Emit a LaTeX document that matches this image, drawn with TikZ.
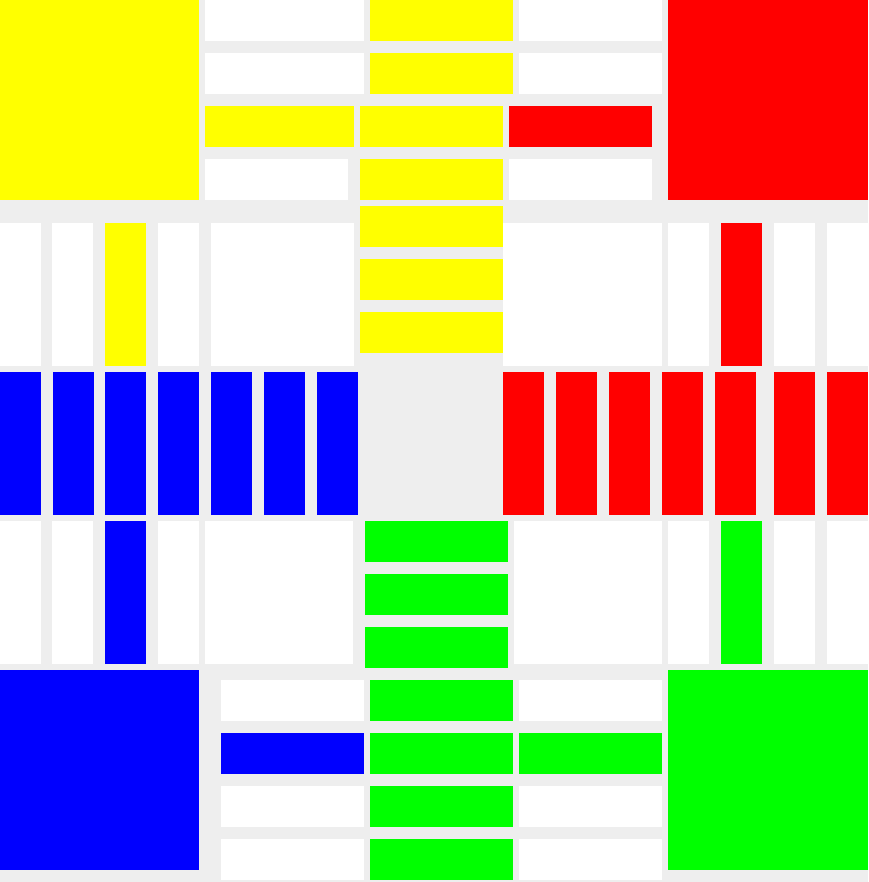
\documentclass[tikz,border=0pt]{standalone}
\definecolor{boardgray}{HTML}{EEEEEE}
\definecolor{pyellow}{HTML}{FFFF00}
\definecolor{pred}{HTML}{FF0000}
\definecolor{pblue}{HTML}{0000FF}
\definecolor{pgreen}{HTML}{00FF00}

\begin{document}
\begin{tikzpicture}[x=1pt,y=-1pt]
  \fill[boardgray] (0,0) rectangle (868,882);

  % home squares
  \fill[pyellow] (0,0) rectangle (199,200);
  \fill[pred] (668,0) rectangle (868,200);
  \fill[pblue] (0,670) rectangle (199,870);
  \fill[pgreen] (668,670) rectangle (868,870);

  % top arm
  \foreach \y in {0,53}{
    \fill[white] (205,\y) rectangle +(159,41);
    \fill[pyellow] (370,\y) rectangle +(143,41);
    \fill[white] (519,\y) rectangle +(143,41);
  }
  \fill[pyellow] (205,106) rectangle (354,147);
  \fill[pyellow] (360,106) rectangle (503,147);
  \fill[pred] (509,106) rectangle (652,147);
  \fill[white] (205,159) rectangle (348,200);
  \fill[pyellow] (360,159) rectangle (503,200);
  \fill[white] (509,159) rectangle (652,200);
  \foreach \y in {206,259,312}
    \fill[pyellow] (360,\y) rectangle +(143,41);

  % upper band
  \foreach \x/\c in {0/white,52/white,105/pyellow,158/white,668/white,721/pred,774/white,827/white}
    \fill[\c] (\x,223) rectangle +(41,143);
  \fill[white] (211,223) rectangle (354,366);
  \fill[white] (503,223) rectangle (662,366);

  % middle row
  \foreach \x in {0,52.7,105.3,158,211,264,317}
    \fill[pblue] (\x,372) rectangle +(41,143);
  \foreach \x in {503,556,609,662,715,774,827}
    \fill[pred] (\x,372) rectangle +(41,143);

  % lower band
  \foreach \x/\c in {0/white,52/white,105/pblue,158/white,668/white,721/pgreen,774/white,827/white}
    \fill[\c] (\x,521) rectangle +(41,143);
  \fill[white] (205,521) rectangle (353,664);
  \fill[white] (514,521) rectangle (662,664);
  \foreach \y in {521,574,627}
    \fill[pgreen] (365,\y) rectangle +(143,41);

  % bottom arm
  \foreach \y/\a/\c in {680/white/white,733/pblue/pgreen,786/white/white,839/white/white}{
    \fill[\a] (221,\y) rectangle +(143,41);
    \fill[pgreen] (370,\y) rectangle +(143,41);
    \fill[\c] (519,\y) rectangle +(143,41);
  }
\end{tikzpicture}
\end{document}
